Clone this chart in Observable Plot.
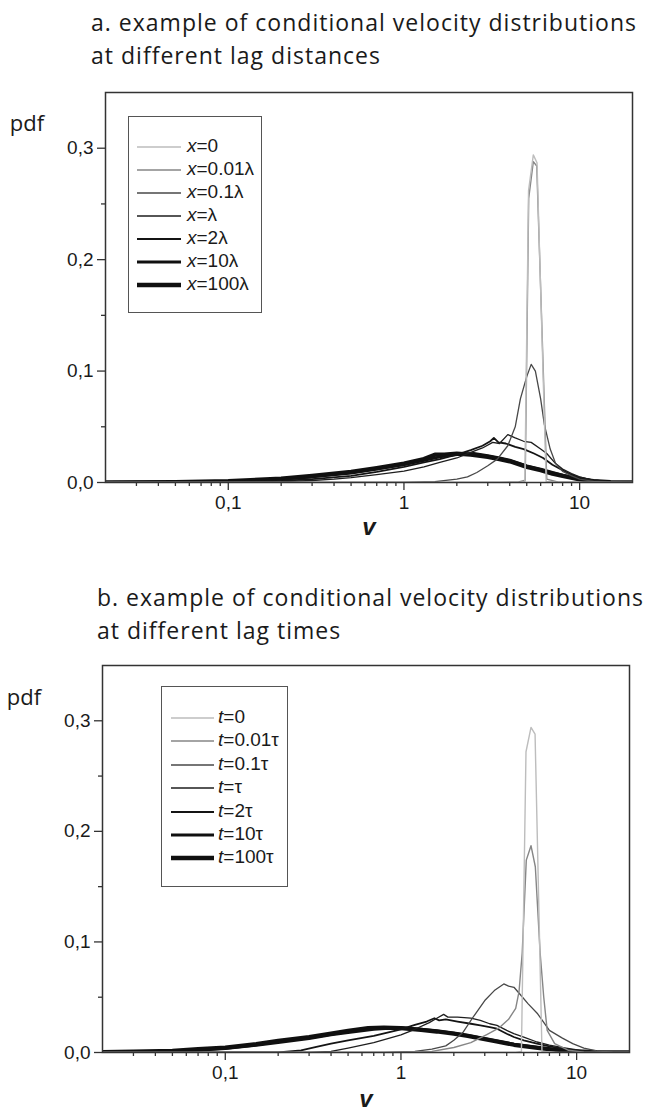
<!DOCTYPE html>
<html>
<head>
<meta charset="utf-8">
<script src="https://cdn.jsdelivr.net/npm/d3@7"></script>
<script src="https://cdn.jsdelivr.net/npm/@observablehq/plot@0.6"></script>
<style>
  html, body { margin: 0; padding: 0; background: #fff; }
  body { width: 649px; height: 1113px; position: relative; overflow: hidden; }
  .title { position: absolute; font-family: "Open Sans", sans-serif; font-size: 23px; color: #1a1a1a; line-height: 33px; white-space: nowrap; }
  .title span { display: inline-block; }
  .legend { position: absolute; border: 1px solid #555; background: #fff; box-sizing: border-box; }
  .row { position: absolute; left: 0; height: 22px; font-family: "Liberation Sans", Arial, sans-serif; font-size: 19px; color: #1a1a1a; white-space: nowrap; line-height: 22px; }
  .row svg { position: absolute; top: 0; }
  .row .lab { position: absolute; top: 0; }
  .plot { position: absolute; left: 0; }
</style>
</head>
<body>
<script>
// ---------------- data ----------------
const xDomain = [0.02, 20];
const yDomain = [0, 0.35];
const yMajor = [0, 0.1, 0.2, 0.3];
const yMinor = [0.05, 0.15, 0.25];
const xMajor = [0.1, 1, 10];
const xMajorLabels = ["0,1", "1", "10"];
const xMinor = [0.03, 0.04, 0.05, 0.06, 0.07, 0.08, 0.09, 0.2, 0.3, 0.4, 0.5, 0.6, 0.7, 0.8, 0.9, 2, 3, 4, 5, 6, 7, 8, 9];

// panel a : lag distances  [v, pdf]
const a_x0 = [[0.02,0],[4.5,0],[4.88,0.001],[5.12,0.262],[5.45,0.294],[5.72,0.287],[6.45,0.001],[8,0],[20,0]];
const a_x001 = [[0.02,0],[3.5,0],[4.5,0.0005],[4.9,0.002],[5.13,0.255],[5.45,0.288],[5.7,0.284],[6.5,0.003],[7.5,0.0005],[20,0]];
const a_x01 = [[0.02,0],[1,0],[1.5,0.0008],[2,0.003],[2.3,0.005],[2.6,0.009],[3.0,0.015],[3.4,0.021],[3.9,0.033],[4.3,0.05],[4.6,0.075],[5.0,0.095],[5.3,0.106],[5.6,0.1],[6.0,0.075],[6.3,0.052],[6.8,0.03],[7.3,0.017],[8,0.01],[9,0.006],[10,0.003],[12,0.001],[15,0.0002],[20,0]];
const a_x1 = [[0.02,0],[0.1,0.0002],[0.2,0.0008],[0.3,0.0018],[0.4,0.003],[0.5,0.0043],[0.7,0.007],[1,0.0103],[1.3,0.014],[1.6,0.018],[2,0.022],[2.4,0.027],[2.8,0.031],[3.2,0.036],[3.5,0.035],[3.9,0.043],[4.3,0.04],[4.8,0.037],[5.3,0.036],[6,0.03],[6.5,0.026],[7.3,0.017],[8,0.012],[9,0.008],[10,0.005],[12,0.002],[15,0.0005],[20,0]];
const a_x2 = [[0.02,0],[0.05,0.0001],[0.1,0.0004],[0.2,0.0015],[0.3,0.003],[0.5,0.006],[0.7,0.0095],[1,0.014],[1.3,0.018],[1.6,0.021],[2,0.025],[2.4,0.029],[2.8,0.033],[3.1,0.037],[3.25,0.04],[3.45,0.036],[3.8,0.035],[4.3,0.032],[4.8,0.03],[5.5,0.026],[6.2,0.022],[7,0.016],[8,0.011],[9,0.007],[10,0.0045],[12,0.002],[15,0.0005],[20,0]];
const a_x10 = [[0.02,0],[0.05,0.0003],[0.1,0.001],[0.2,0.003],[0.3,0.005],[0.5,0.0085],[0.7,0.012],[1,0.016],[1.3,0.02],[1.6,0.023],[2,0.025],[2.5,0.026],[3,0.024],[3.5,0.022],[4,0.02],[5,0.015],[6,0.012],[7,0.009],[8,0.0065],[10,0.003],[12,0.0013],[15,0.0003],[20,0]];
const a_x100 = [[0.02,0],[0.05,0.0004],[0.1,0.0012],[0.2,0.0035],[0.3,0.006],[0.5,0.0095],[0.7,0.013],[1,0.017],[1.3,0.021],[1.5,0.025],[1.7,0.025],[2,0.026],[2.4,0.025],[3,0.023],[3.5,0.021],[4,0.019],[5,0.014],[6,0.011],[7,0.008],[8,0.006],[10,0.0028],[12,0.0012],[15,0.0003],[20,0]];

// panel b : lag times  [v, pdf]
const b_t0 = [[0.02,0],[4.5,0],[4.85,0.001],[5.15,0.272],[5.5,0.294],[5.8,0.288],[6.35,0.001],[8,0],[20,0]];
const b_t001 = [[0.02,0],[0.9,0],[1.5,0.001],[2,0.0045],[2.5,0.009],[3.1,0.0165],[3.6,0.022],[4.1,0.03],[4.5,0.04],[4.7,0.055],[4.9,0.09],[5.17,0.174],[5.5,0.187],[5.82,0.168],[6.2,0.09],[6.5,0.05],[6.8,0.02],[7.5,0.008],[9,0.002],[11,0.0003],[20,0]];
const b_t01 = [[0.02,0],[0.8,0],[1.2,0.001],[1.5,0.003],[1.8,0.006],[2.0,0.011],[2.25,0.018],[2.6,0.033],[3.0,0.047],[3.4,0.056],[3.85,0.062],[4.1,0.06],[4.4,0.059],[4.8,0.052],[5.3,0.044],[6,0.035],[7,0.02],[8.3,0.013],[9.5,0.008],[11,0.004],[13,0.0015],[16,0.0003],[20,0]];
const b_t1 = [[0.02,0],[0.3,0],[0.4,0.001],[0.5,0.004],[0.7,0.009],[1,0.016],[1.2,0.021],[1.45,0.027],[1.6,0.031],[1.75,0.0345],[1.85,0.032],[2.1,0.032],[2.5,0.031],[2.83,0.029],[3.2,0.026],[3.52,0.0245],[4.0,0.02],[4.39,0.017],[5,0.014],[5.95,0.0095],[7,0.0066],[8.7,0.004],[11,0.0015],[14,0.0004],[20,0]];
const b_t2 = [[0.02,0],[0.2,0],[0.27,0.002],[0.33,0.005],[0.4,0.008],[0.5,0.011],[0.7,0.015],[1,0.021],[1.2,0.025],[1.4,0.028],[1.55,0.031],[1.65,0.029],[1.8,0.03],[2.1,0.028],[2.5,0.026],[2.83,0.0245],[3.2,0.023],[3.52,0.0215],[4,0.017],[4.39,0.014],[5,0.011],[5.95,0.008],[7,0.0055],[8.7,0.003],[11,0.001],[14,0.0002],[20,0]];
const b_t10 = [[0.02,0],[0.03,0.0004],[0.05,0.001],[0.07,0.002],[0.1,0.0035],[0.15,0.0065],[0.2,0.009],[0.3,0.0125],[0.4,0.016],[0.5,0.018],[0.7,0.021],[1,0.0225],[1.3,0.021],[1.6,0.0195],[2,0.0175],[2.4,0.0155],[2.8,0.0135],[3.5,0.0105],[4.4,0.0075],[6,0.0045],[8,0.0022],[10,0.001],[13,0.0003],[20,0]];
const b_t100 = [[0.02,0.0003],[0.03,0.0008],[0.05,0.0015],[0.07,0.003],[0.1,0.0045],[0.15,0.0075],[0.2,0.0105],[0.3,0.014],[0.4,0.017],[0.5,0.0195],[0.65,0.022],[0.8,0.0225],[1,0.022],[1.3,0.0205],[1.6,0.019],[2,0.017],[2.4,0.015],[2.8,0.013],[3.5,0.01],[4.4,0.007],[6,0.0042],[8,0.002],[10,0.001],[13,0.0003],[20,0]];

// legend labels
const legendA = ["0", "0.01λ", "0.1λ", "λ", "2λ", "10λ", "100λ"];
const legendB = ["0", "0.01τ", "0.1τ", "τ", "2τ", "10τ", "100τ"];
const seriesA = [a_x0, a_x001, a_x01, a_x1, a_x2, a_x10, a_x100];
const seriesB = [b_t0, b_t001, b_t01, b_t1, b_t2, b_t10, b_t100];

// styles (grey level, width) for the seven lags
const lineColors = ["#bdbdbd", "#868686", "#484848", "#1e1e1e", "#141414", "#101010", "#101010"];
const lineWidths = [1.4, 1.4, 1.3, 1.3, 1.8, 2.9, 4.3];

// ---------------- drawing ----------------
function title(lines, left, top) {
  const div = document.createElement("div");
  div.className = "title";
  div.style.left = left + "px";
  div.style.top = top + "px";
  div.innerHTML = lines.map(l => `<span>${l}</span>`).join("<br>");
  document.body.appendChild(div);
  return div;
}
function fitTitle(div, target) {
  const s = div.querySelector("span");
  const w = s.getBoundingClientRect().width;
  const n = s.textContent.length;
  div.style.letterSpacing = ((target - w) / n) + "px";
}

function panel(series, ml, mr, top, height, pdfDx, pdfDy, vDy) {
  const marks = [];
  for (let i = series.length - 1; i >= 0; i--) {
    marks.push(Plot.line(series[i], {x: d => d[0], y: d => d[1], stroke: lineColors[i], strokeWidth: lineWidths[i], strokeLinejoin: "round", clip: true}));
  }
  marks.push(
    Plot.frame({stroke: "#333", strokeWidth: 1.5}),
    Plot.axisY(yMajor, {tickSize: 8, tickPadding: 4, stroke: "#333", strokeWidth: 1.3, fill: "#1a1a1a", fontSize: 19, tickFormat: d => d.toFixed(1).replace(".", ","), label: null}),
    Plot.axisY(yMinor, {tickSize: 4, stroke: "#333", strokeWidth: 1.3, tickFormat: () => "", label: null}),
    Plot.axisX(xMajor, {tickSize: 8, tickPadding: 5, stroke: "#333", strokeWidth: 1.3, fill: "#1a1a1a", fontSize: 19, tickFormat: d => xMajorLabels[xMajor.indexOf(d)], label: null}),
    Plot.axisX(xMinor, {tickSize: 4, stroke: "#333", strokeWidth: 1.3, tickFormat: () => "", label: null}),
    Plot.text(["v"], {frameAnchor: "bottom", dy: vDy, lineAnchor: "middle", textAnchor: "middle", fontSize: 24, fontWeight: "bold", fontStyle: "italic", fill: "#1a1a1a", fontFamily: "Liberation Sans, Arial, sans-serif"}),
    Plot.text(["pdf"], {frameAnchor: "top-left", dx: pdfDx, dy: pdfDy, lineAnchor: "middle", textAnchor: "middle", fontSize: 22, fill: "#1a1a1a", fontFamily: "Open Sans, sans-serif"})
  );
  const svg = Plot.plot({
    width: 649, height,
    marginLeft: ml, marginRight: mr, marginTop: 22, marginBottom: 60,
    x: {type: "log", domain: xDomain},
    y: {domain: yDomain},
    style: {fontFamily: "Liberation Sans, Arial, sans-serif", background: "transparent", overflow: "visible"},
    marks
  });
  svg.classList.add("plot");
  svg.style.top = top + "px";
  document.body.appendChild(svg);
}

function legend(labels, sym, box, lineX0, lineX1, textX, rowsY) {
  const div = document.createElement("div");
  div.className = "legend";
  div.style.left = box[0] + "px";
  div.style.top = box[1] + "px";
  div.style.width = (box[2] - box[0]) + "px";
  div.style.height = (box[3] - box[1]) + "px";
  labels.forEach((lab, i) => {
    const row = document.createElement("div");
    row.className = "row";
    row.style.top = (rowsY[i] - box[1] - 12) + "px";
    row.style.width = "100%";
    row.innerHTML = `<svg width="${lineX1 - box[0] + 2}" height="22"><line x1="${lineX0 - box[0]}" x2="${lineX1 - box[0]}" y1="12" y2="12" stroke="${lineColors[i]}" stroke-width="${lineWidths[i]}"/></svg><span class="lab" style="left:${textX - box[0]}px"><i>${sym}</i>=${lab}</span>`;
    div.appendChild(row);
  });
  document.body.appendChild(div);
}

// panel a
panel(seriesA, 105, 17, 70, 472, -78.5, 31, 45);
const ta = title(["a. example of conditional velocity distributions", "at different lag distances"], 91, 6);
fitTitle(ta, 546);
legend(legendA, "x", [128, 116, 262, 313], 136, 180, 186, [146, 169, 192, 215, 238, 261, 284]);

// panel b
panel(seriesB, 102, 20, 643, 469, -78.5, 32, 47);
const tb = title(["b. example of conditional velocity distributions", "at different lag times"], 97, 581);
fitTitle(tb, 547);
legend(legendB, "t", [161, 686, 288, 887], 170, 213, 217, [717, 740, 764, 787, 811, 834, 857]);
</script>
</body>
</html>
